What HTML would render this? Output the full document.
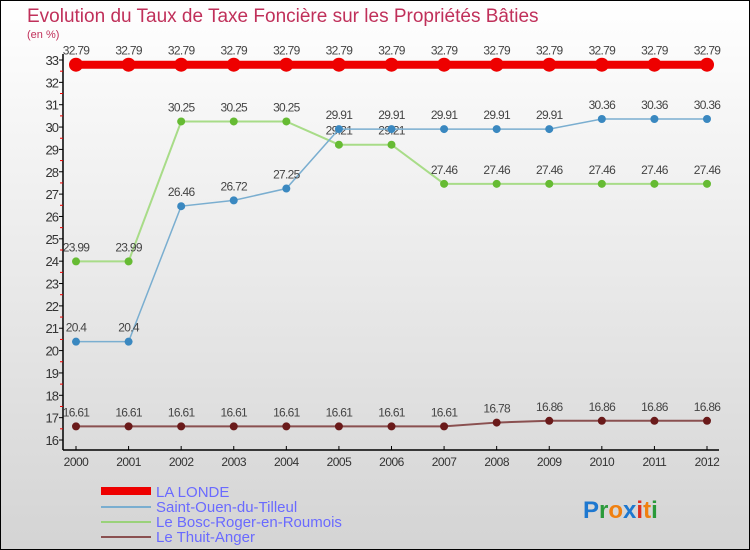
<!DOCTYPE html>
<html><head><meta charset="utf-8"><style>
body{margin:0;}
#c{position:relative;width:748px;height:548px;border:1px solid #000;background:linear-gradient(#ffffff,#d4d4d4);overflow:hidden;font-family:"Liberation Sans",sans-serif;}
</style></head><body>
<div id="c">
<svg id="s" width="748" height="548" style="position:absolute;left:0;top:0">
<text x="26" y="21" font-size="19" fill="#c0305a" font-weight="300">Evolution du Taux de Taxe Foncière sur les Propriétés Bâties</text>
<text x="26" y="37" font-size="11" fill="#c0305a">(en %)</text>
<g id="axes"></g><g id="series"></g>
<g>
<rect x="100" y="486" width="50" height="8" fill="#e00"/>
<text x="155" y="496" font-size="15" fill="#6a6aff">LA LONDE</text>
<rect x="100" y="505" width="50" height="2" fill="#7aaed0"/>
<text x="155" y="511" font-size="15" fill="#6a6aff">Saint-Ouen-du-Tilleul</text>
<rect x="100" y="520" width="50" height="2" fill="#9ad27a"/>
<text x="155" y="526" font-size="15" fill="#6a6aff">Le Bosc-Roger-en-Roumois</text>
<rect x="100" y="535" width="50" height="2" fill="#8a5050"/>
<text x="155" y="541" font-size="15" fill="#6a6aff">Le Thuit-Anger</text>
</g>
<text x="582" y="517" font-size="24" font-weight="bold"><tspan fill="#1e78d0">P</tspan><tspan fill="#2a9a3a">r</tspan><tspan fill="#f08010">o</tspan><tspan fill="#1e78d0">x</tspan><tspan fill="#e03020">i</tspan><tspan fill="#f08010">t</tspan><tspan fill="#2a9a3a">i</tspan></text>
</svg>
</div>
<script>
const years=[2000,2001,2002,2003,2004,2005,2006,2007,2008,2009,2010,2011,2012];
const laLonde=[32.79,32.79,32.79,32.79,32.79,32.79,32.79,32.79,32.79,32.79,32.79,32.79,32.79];
const saintOuen=[20.4,20.4,26.46,26.72,27.25,29.91,29.91,29.91,29.91,29.91,30.36,30.36,30.36];
const boscRoger=[23.99,23.99,30.25,30.25,30.25,29.21,29.21,27.46,27.46,27.46,27.46,27.46,27.46];
const thuitAnger=[16.61,16.61,16.61,16.61,16.61,16.61,16.61,16.61,16.78,16.86,16.86,16.86,16.86];
const yTicks=[16,17,18,19,20,21,22,23,24,25,26,27,28,29,30,31,32,33];
const NS='http://www.w3.org/2000/svg';
const X=i=>75+i*(706-75)/(years.length-1);
const Y=v=>439-(v-16)*(439-59)/17;
function mk(t,a,p){const e=document.createElementNS(NS,t);for(const k in a)e.setAttribute(k,a[k]);p.appendChild(e);return e;}
const ax=document.getElementById('axes');
let l=mk('line',{x1:62,y1:53,x2:62,y2:449,stroke:'#000','stroke-width':1.5},ax);


l=mk('line',{x1:62,y1:449,x2:718,y2:449,stroke:'#000','stroke-width':1.5},ax);


yTicks.forEach(v=>{
 mk('line',{x1:58,y1:Y(v),x2:62,y2:Y(v),stroke:'#000'},ax);
 if(v<33)mk('line',{x1:59,y1:Y(v+0.5),x2:62,y2:Y(v+0.5),stroke:'#e00'},ax);
 const t=mk('text',{x:57,y:Y(v)+5,'font-size':13,'text-anchor':'end',fill:'#333','letter-spacing':'-1'},ax);
 t.textContent=v;
 
 
});
years.forEach((y,i)=>{
 mk('line',{x1:X(i),y1:445,x2:X(i),y2:449,stroke:'#000'},ax);
 const t=mk('text',{x:X(i),y:465,'font-size':12,'text-anchor':'middle',fill:'#333','letter-spacing':'-0.5'},ax);
 t.textContent=y;
 
 
});
const sg=document.getElementById('series');
function series(name,data,color,dot,w,r){
 const g=mk('g',{},sg);
 
 
 const pl=mk('polyline',{points:data.map((v,i)=>X(i)+','+Y(v)).join(' '),fill:'none',stroke:color,'stroke-width':w},g);
 
 
 data.forEach((v,i)=>{
  const c=mk('circle',{cx:X(i),cy:Y(v),r:r,fill:dot},g);
  
  
  const t=mk('text',{x:X(i),y:Y(v)-10,'font-size':12,'text-anchor':'middle',fill:'#444','letter-spacing':'-0.7'},g);
  t.textContent=String(v);
  
  
 });
}
series('thuit-anger',thuitAnger,'#8a5050','#6a1a1a',2,4);
series('bosc-roger',boscRoger,'#a8dc88','#66bb33',2,4);
series('saint-ouen',saintOuen,'#7aaed0','#3a88c0',1.5,4);
series('la-londe',laLonde,'#e00','#e00',8,7);
</script>
</body></html>
